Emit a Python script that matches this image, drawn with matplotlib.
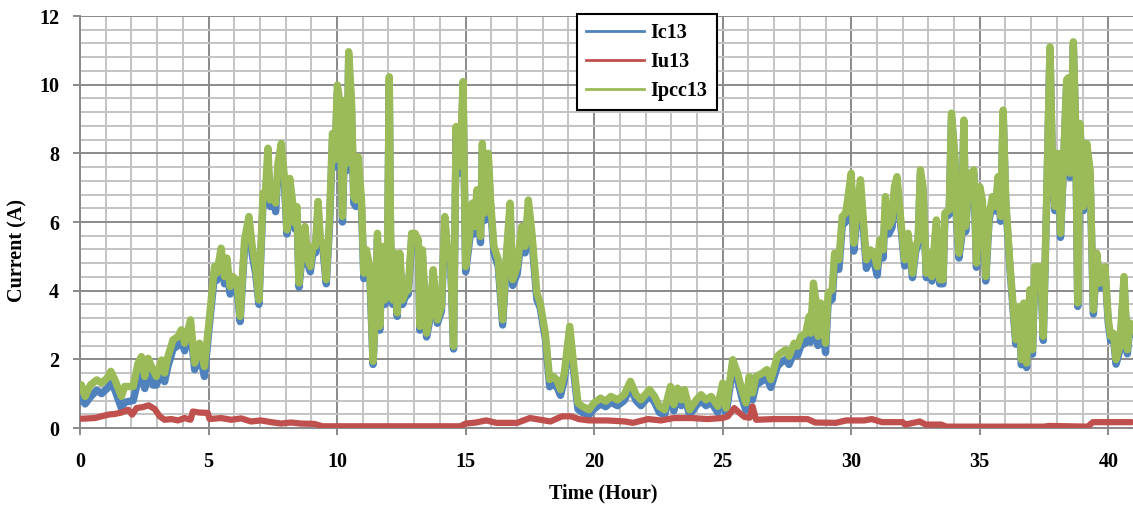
import numpy as np
import matplotlib
matplotlib.use('Agg')
import matplotlib.pyplot as plt
from matplotlib.lines import Line2D
from matplotlib.ticker import MultipleLocator

plt.rcParams['font.family'] = ['Liberation Serif', 'DejaVu Serif']
plt.rcParams['font.weight'] = 'bold'

# time axis (hour) for Ic13 / Ipcc13
hours = [
    0.05, 0.2, 0.4, 0.65, 0.84, 1.05, 1.2, 1.36, 1.61, 1.74,
    2.07, 2.26, 2.39, 2.52, 2.65, 2.84, 2.97, 3.17, 3.29, 3.42,
    3.62, 3.81, 3.94, 4.07, 4.3, 4.46, 4.65, 4.84,
    5.04, 5.23, 5.32, 5.49, 5.62, 5.71, 5.84, 5.95, 6.1, 6.23,
    6.4, 6.57, 6.7, 6.83, 6.96, 7.12, 7.21, 7.31, 7.4, 7.5,
    7.61, 7.7, 7.83, 7.96, 8.05, 8.16, 8.26, 8.35, 8.44, 8.52,
    8.65, 8.75, 8.87, 8.96, 9.06, 9.16, 9.26, 9.35, 9.45, 9.58,
    9.71, 9.82, 9.91, 10.01, 10.1, 10.21, 10.32, 10.39, 10.45, 10.56,
    10.65, 10.73, 10.82, 10.95, 11.04, 11.14, 11.27, 11.4, 11.51, 11.57,
    11.66, 11.77, 11.86, 11.95, 12.03, 12.08, 12.16, 12.25, 12.34, 12.44,
    12.55, 12.64, 12.77, 12.9, 13.03, 13.16, 13.22, 13.32, 13.48, 13.61,
    13.74, 13.9, 14.06, 14.19, 14.32, 14.42,
    14.53, 14.63, 14.7, 14.79, 14.9, 15.0, 15.16, 15.26, 15.35, 15.44,
    15.58, 15.65, 15.75, 15.88, 15.97, 16.1, 16.27, 16.44, 16.59, 16.73,
    16.83, 17.01, 17.18, 17.31, 17.44, 17.58, 17.77, 17.9, 18.1, 18.27,
    18.42, 18.55, 18.69, 18.84, 19.05, 19.21, 19.37, 19.54, 19.8, 19.99,
    20.25, 20.45, 20.65, 20.91, 21.17, 21.41, 21.63, 21.82, 22.15, 22.35,
    22.54, 22.74, 22.97, 23.1, 23.24, 23.39,
    23.51, 23.71, 23.97, 24.16, 24.35, 24.55, 24.81, 25.0, 25.13, 25.39,
    25.58, 25.74, 25.9, 26.03, 26.16, 26.29, 26.55, 26.72, 26.87, 27.13,
    27.26, 27.45, 27.58, 27.78, 27.91, 28.04, 28.23, 28.36, 28.42, 28.53,
    28.62, 28.71, 28.81, 28.91, 29.0, 29.1, 29.26, 29.35, 29.52, 29.65,
    29.78, 29.84, 30.0, 30.1, 30.23, 30.36, 30.47, 30.59, 30.75, 30.88,
    31.01, 31.11, 31.24, 31.33, 31.46, 31.59, 31.68, 31.78,
    31.95, 32.08, 32.21, 32.38, 32.51, 32.6, 32.69, 32.79, 32.92, 33.05,
    33.14, 33.31, 33.44, 33.57, 33.64, 33.81, 33.9, 34.03, 34.09, 34.19,
    34.29, 34.38, 34.45, 34.58, 34.68, 34.77, 34.87, 35.0, 35.1, 35.23,
    35.36, 35.49, 35.62, 35.71, 35.81, 35.91, 36.01, 36.17, 36.3, 36.4,
    36.53, 36.62, 36.71, 36.82, 36.95, 37.05, 37.14, 37.27, 37.37, 37.47,
    37.6, 37.73, 37.83, 37.92, 38.05, 38.14, 38.25, 38.38, 38.44, 38.51,
    38.64, 38.73, 38.81, 38.9, 39.03, 39.16, 39.29, 39.42, 39.55, 39.68,
    39.87, 40.0, 40.09, 40.2, 40.3, 40.45, 40.61, 40.74, 40.84, 40.94,
]

ipcc13 = [
    1.26, 0.92, 1.25, 1.40, 1.31, 1.45, 1.65, 1.40, 0.92, 1.21,
    1.21, 1.89, 2.08, 1.50, 2.03, 1.69, 1.50, 1.98, 1.60, 2.08,
    2.57, 2.66, 2.86, 2.47, 3.15, 1.89, 2.47, 1.79,
    3.25, 4.70, 4.51, 5.24, 4.41, 4.95, 4.12, 4.41, 4.30, 3.25,
    5.48, 6.16, 5.29, 4.70, 3.73, 6.84, 6.84, 8.15, 6.64, 7.03,
    6.55, 7.71, 8.29, 7.23, 5.77, 7.27, 6.64, 5.96, 6.45, 4.22,
    5.29, 5.87, 4.90, 4.70, 5.29, 5.29, 6.60, 5.48, 5.38, 4.32,
    6.16, 8.58, 7.81, 9.99, 9.55, 6.16, 9.55, 7.71, 10.96, 9.55,
    6.74, 6.64, 7.90, 6.64, 4.51, 5.19, 4.70, 1.94, 3.73, 5.67,
    2.96, 5.29, 3.73, 4.22, 10.23, 5.67, 3.73, 5.09, 3.35, 5.09,
    3.73, 3.93, 4.03, 5.67, 5.67, 5.48, 2.96, 5.19, 2.76, 3.25,
    4.61, 3.15, 3.54, 6.16, 5.00, 4.90,
    2.38, 8.78, 7.61, 7.71, 10.09, 4.70, 5.67, 6.55, 5.87, 6.94,
    5.58, 8.29, 6.26, 8.00, 6.64, 5.29, 4.90, 3.15, 5.09, 6.55,
    4.32, 4.70, 5.87, 5.29, 6.64, 5.67, 3.93, 3.64, 2.76, 1.41,
    1.50, 1.40, 1.12, 1.60, 2.96, 1.79, 0.73, 0.63, 0.53, 0.73,
    0.87, 0.78, 0.92, 0.82, 0.97, 1.36, 0.97, 0.82, 1.12, 0.92,
    0.63, 0.53, 1.21, 0.68, 1.16, 0.82,
    1.12, 0.53, 0.82, 0.97, 0.82, 0.92, 0.63, 1.31, 0.58, 1.99,
    1.60, 1.12, 0.73, 1.50, 1.02, 1.50, 1.60, 1.70, 1.41, 2.09,
    2.18, 2.28, 2.09, 2.47, 2.38, 2.67, 2.76, 3.25, 2.76, 4.22,
    3.73, 2.67, 3.64, 3.15, 2.47, 3.93, 4.03, 5.09, 4.90, 6.16,
    6.26, 6.55, 7.42, 5.38, 6.45, 7.23, 6.06, 4.90, 5.19, 5.09,
    4.70, 5.48, 5.19, 6.74, 5.87, 6.06, 7.03, 7.32,
    5.87, 4.90, 5.67, 4.51, 5.29, 5.48, 7.52, 7.03, 4.51, 5.09,
    4.41, 6.06, 4.32, 4.32, 6.26, 6.35, 9.17, 7.90, 6.26, 5.09,
    5.67, 8.97, 5.87, 7.42, 7.42, 7.52, 4.80, 7.03, 6.64, 4.41,
    6.16, 6.74, 6.45, 7.32, 6.16, 9.26, 6.64, 4.80, 3.54, 2.57,
    3.54, 1.99, 3.64, 1.89, 4.03, 2.28, 4.70, 4.70, 4.70, 2.67,
    6.64, 11.10, 7.61, 6.45, 8.00, 5.67, 7.61, 10.14, 10.20, 7.42,
    11.25, 8.78, 3.64, 8.87, 6.45, 8.29, 7.52, 3.44, 5.09, 4.22,
    4.70, 3.15, 2.67, 2.76, 1.99, 2.38, 4.41, 2.28, 3.06, 2.86,
]

ic13 = [
    0.85, 0.70, 0.90, 1.10, 1.00, 1.15, 1.30, 1.10, 0.58, 0.75,
    0.80, 1.40, 1.60, 1.15, 1.65, 1.25, 1.25, 1.65, 1.35, 1.80,
    2.30, 2.40, 2.60, 2.25, 2.90, 1.70, 2.20, 1.50,
    3.05, 4.45, 4.30, 5.00, 4.20, 4.70, 3.90, 4.20, 4.10, 3.10,
    5.25, 5.95, 5.05, 4.50, 3.60, 6.60, 6.55, 7.90, 6.45, 6.80,
    6.30, 7.50, 8.05, 7.00, 5.65, 7.05, 6.45, 5.80, 6.25, 4.10,
    5.10, 5.65, 4.75, 4.55, 5.10, 5.10, 6.40, 5.30, 5.20, 4.20,
    5.95, 8.35, 7.60, 9.75, 9.30, 6.00, 9.30, 7.50, 10.70, 9.30,
    6.55, 6.45, 7.70, 6.45, 4.35, 5.00, 4.55, 1.85, 3.60, 5.50,
    2.85, 5.10, 3.60, 4.05, 9.95, 5.50, 3.60, 4.90, 3.25, 4.90,
    3.60, 3.80, 3.90, 5.50, 5.50, 5.30, 2.85, 5.00, 2.65, 3.15,
    4.45, 3.05, 3.40, 5.95, 4.85, 4.75,
    2.30, 8.55, 7.40, 7.50, 9.85, 4.55, 5.50, 6.35, 5.65, 6.75,
    5.40, 8.05, 6.05, 7.80, 6.45, 5.10, 4.70, 3.00, 4.90, 6.35,
    4.15, 4.50, 5.65, 5.10, 6.45, 5.45, 3.75, 3.50, 2.60, 1.20,
    1.30, 1.20, 0.95, 1.40, 2.80, 1.60, 0.55, 0.45, 0.38, 0.55,
    0.70, 0.62, 0.75, 0.65, 0.80, 1.18, 0.80, 0.65, 0.95, 0.75,
    0.45, 0.38, 1.02, 0.50, 0.98, 0.65,
    0.95, 0.38, 0.65, 0.80, 0.65, 0.75, 0.45, 1.10, 0.40, 1.75,
    1.40, 0.90, 0.52, 1.25, 0.82, 1.25, 1.38, 1.45, 1.18, 1.80,
    1.90, 2.00, 1.85, 2.20, 2.12, 2.40, 2.48, 2.95, 2.50, 3.95,
    3.45, 2.40, 3.35, 2.90, 2.20, 3.65, 3.75, 4.80, 4.62, 5.90,
    6.00, 6.30, 7.15, 5.15, 6.20, 7.00, 5.82, 4.65, 4.95, 4.85,
    4.45, 5.25, 4.95, 6.50, 5.65, 5.85, 6.80, 7.10,
    5.72, 4.72, 5.52, 4.38, 5.15, 5.35, 7.38, 6.90, 4.38, 4.95,
    4.28, 5.92, 4.20, 4.20, 6.12, 6.22, 9.05, 7.78, 6.12, 4.95,
    5.52, 8.85, 5.72, 7.30, 7.30, 7.40, 4.68, 6.90, 6.50, 4.28,
    6.02, 6.62, 6.32, 7.20, 6.02, 9.14, 6.52, 4.68, 3.40, 2.44,
    3.40, 1.84, 3.50, 1.76, 3.90, 2.15, 4.58, 4.58, 4.58, 2.55,
    6.52, 10.98, 7.50, 6.33, 7.88, 5.55, 7.49, 10.02, 10.08, 7.30,
    11.13, 8.66, 3.54, 8.75, 6.33, 8.17, 7.40, 3.32, 4.97, 4.10,
    4.58, 3.03, 2.55, 2.64, 1.86, 2.26, 4.29, 2.16, 2.94, 2.74,
]

# Iu13 is much smoother, so it gets its own (coarser) time points
hours_u = [
    0.05, 0.58, 0.84, 1.1, 1.36, 1.61, 1.87, 2.03, 2.2, 2.45,
    2.67, 2.91, 3.1, 3.29, 3.55, 3.81, 4.07, 4.3, 4.39, 4.65,
    4.97, 5.04, 5.49, 5.88, 6.27, 6.65, 7.04, 7.43, 7.82, 8.2,
    8.59, 9.11, 9.43, 9.88, 12.0, 14.0, 14.8, 15.0, 15.4, 15.8,
    16.2, 17.0, 17.5, 17.9, 18.3, 18.75, 19.1, 19.4, 19.8, 20.5,
    21.2, 21.5, 22.1, 22.6, 23.1, 23.8, 24.4, 25.0, 25.2, 25.45,
    25.65, 25.85, 26.05, 26.16, 26.3, 27.0, 28.3, 28.6, 29.4, 29.8,
    30.5, 30.8, 31.2, 32.0, 32.1, 32.66, 32.9, 33.5, 33.7, 36.0,
    37.5, 37.7, 39.2, 39.4, 40.0, 40.9,
]
iu13 = [
    0.27, 0.29, 0.34, 0.39, 0.41, 0.45, 0.53, 0.39, 0.58, 0.61,
    0.66, 0.55, 0.34, 0.24, 0.26, 0.22, 0.29, 0.24, 0.48, 0.45,
    0.44, 0.26, 0.29, 0.24, 0.28, 0.19, 0.22, 0.17, 0.13, 0.16,
    0.13, 0.12, 0.05, 0.05, 0.05, 0.05, 0.05, 0.13, 0.16, 0.22,
    0.15, 0.15, 0.29, 0.24, 0.19, 0.34, 0.34, 0.26, 0.22, 0.22,
    0.19, 0.15, 0.26, 0.22, 0.29, 0.29, 0.26, 0.29, 0.34, 0.58,
    0.44, 0.32, 0.30, 0.63, 0.24, 0.26, 0.26, 0.16, 0.15, 0.22,
    0.22, 0.26, 0.17, 0.17, 0.10, 0.19, 0.10, 0.10, 0.04, 0.04,
    0.04, 0.06, 0.04, 0.17, 0.17, 0.17,
]

labels = ['Ic13', 'Iu13', 'Ipcc13']
colors = ['#4F81BD', '#C0504D', '#9BBB59']

W, H = 1133, 512
fig = plt.figure(figsize=(W/100, H/100), dpi=100)
ax = fig.add_axes([80/W, 84/H, 1 - 80/W, 412/H])

style = dict(solid_joinstyle='round', solid_capstyle='round')
ax.plot(hours, ic13, color=colors[0], lw=5.3, zorder=3, **style)
ax.plot(hours_u, iu13, color=colors[1], lw=4.5, zorder=4, **style)
ax.plot(hours, ipcc13, color=colors[2], lw=5.3, zorder=5, **style)

ax.set_xlim(0, 40.96)
ax.set_ylim(0, 12)
ax.xaxis.set_major_locator(MultipleLocator(5))
ax.xaxis.set_minor_locator(MultipleLocator(1))
ax.yaxis.set_major_locator(MultipleLocator(2))
ax.yaxis.set_minor_locator(MultipleLocator(0.4))

# excel style grid: light minor, darker major
ax.grid(which='minor', color='#c3c3c3', lw=1.4)
ax.grid(which='major', color='#8a8a8a', lw=1.4)
ax.set_axisbelow(True)

for s in ['top', 'right']:
    ax.spines[s].set_visible(False)
for s in ['left', 'bottom']:
    ax.spines[s].set_color('#8a8a8a')
    ax.spines[s].set_linewidth(1.4)

ax.tick_params(which='major', direction='out', length=5, width=1.4,
               color='#8a8a8a', labelsize=14.5)
ax.tick_params(axis='y', which='major', pad=10)
ax.tick_params(axis='x', which='major', pad=12)
ax.tick_params(which='minor', length=0)

ax.set_ylabel('Current (A)', fontsize=14.5, fontweight='bold')
ax.yaxis.set_label_coords(-0.05, 0.43)
ax.set_xlabel('Time (Hour)', fontsize=14.5, fontweight='bold')
ax.xaxis.set_label_coords(0.497, -0.135)

# legend uses thin lines, not the thick plot lines
handles = [Line2D([], [], color=c, lw=2) for c in colors]
leg = ax.legend(handles, labels, loc='upper left', bbox_to_anchor=(0.472, 1.006),
                fontsize=14.5, frameon=True, fancybox=False, framealpha=1,
                edgecolor='black', handlelength=2.9, handletextpad=0.3,
                labelspacing=0.45, borderpad=0.45, borderaxespad=0)
leg.get_frame().set_linewidth(1.5)
leg.set_zorder(10)

fig.savefig('out.png', dpi=100)
